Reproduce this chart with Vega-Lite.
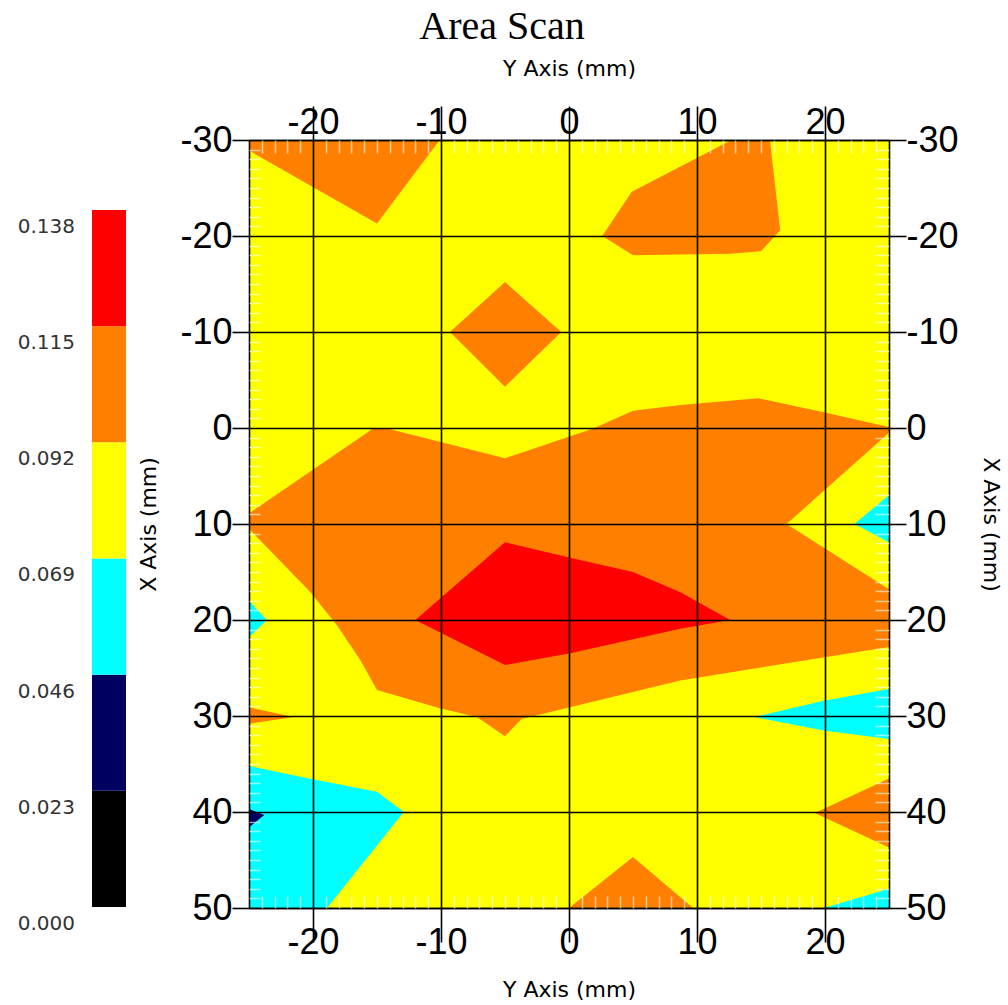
{
  "$schema": "https://vega.github.io/schema/vega-lite/v6.json",
  "autosize": {"type": "none"},
  "padding": {"left": 249, "top": 140, "right": 119, "bottom": 97},
  "width": 640,
  "height": 768,
  "background": "#ffffff",
  "title": {
    "text": "Area Scan",
    "font": "Liberation Serif",
    "fontSize": 40,
    "fontWeight": "normal",
    "color": "#000000",
    "anchor": "middle",
    "frame": "group",
    "dx": -67,
    "offset": 11
  },
  "config": {
    "view": {"stroke": null},
    "axis": {"zindex": 1}
  },
  "data": {
    "values": [
      {"p": "Y0", "l": 0.08, "i": 0, "h": -25, "v": -30},
      {"p": "Y0", "l": 0.08, "i": 1, "h": 25, "v": -30},
      {"p": "Y0", "l": 0.08, "i": 2, "h": 25, "v": 50},
      {"p": "Y0", "l": 0.08, "i": 3, "h": -25, "v": 50},

      {"p": "O1", "l": 0.1, "i": 0, "h": -25, "v": -30},
      {"p": "O1", "l": 0.1, "i": 1, "h": -25, "v": -28.9},
      {"p": "O1", "l": 0.1, "i": 2, "h": -15, "v": -21.3},
      {"p": "O1", "l": 0.1, "i": 3, "h": -10.1, "v": -30},

      {"p": "O2", "l": 0.1, "i": 0, "h": 2.6, "v": -20},
      {"p": "O2", "l": 0.1, "i": 1, "h": 4.9, "v": -24.6},
      {"p": "O2", "l": 0.1, "i": 2, "h": 12.7, "v": -30},
      {"p": "O2", "l": 0.1, "i": 3, "h": 15.7, "v": -30},
      {"p": "O2", "l": 0.1, "i": 4, "h": 16.5, "v": -20.6},
      {"p": "O2", "l": 0.1, "i": 5, "h": 15, "v": -18.4},
      {"p": "O2", "l": 0.1, "i": 6, "h": 12.6, "v": -18.15},
      {"p": "O2", "l": 0.1, "i": 7, "h": 5, "v": -18},

      {"p": "O3", "l": 0.1, "i": 0, "h": -5, "v": -15.2},
      {"p": "O3", "l": 0.1, "i": 1, "h": -0.6, "v": -10},
      {"p": "O3", "l": 0.1, "i": 2, "h": -5, "v": -4.3},
      {"p": "O3", "l": 0.1, "i": 3, "h": -9.3, "v": -10},

      {"p": "O4", "l": 0.1, "i": 0, "h": -25, "v": 8.9},
      {"p": "O4", "l": 0.1, "i": 1, "h": -15.3, "v": 0.05},
      {"p": "O4", "l": 0.1, "i": 2, "h": -14.2, "v": 0.05},
      {"p": "O4", "l": 0.1, "i": 3, "h": -5, "v": 3.15},
      {"p": "O4", "l": 0.1, "i": 4, "h": 1.9, "v": 0.05},
      {"p": "O4", "l": 0.1, "i": 5, "h": 5, "v": -1.8},
      {"p": "O4", "l": 0.1, "i": 6, "h": 8.7, "v": -2.4},
      {"p": "O4", "l": 0.1, "i": 7, "h": 14.8, "v": -3.1},
      {"p": "O4", "l": 0.1, "i": 8, "h": 19.9, "v": -1.65},
      {"p": "O4", "l": 0.1, "i": 9, "h": 25, "v": -0.1},
      {"p": "O4", "l": 0.1, "i": 10, "h": 25, "v": 0.5},
      {"p": "O4", "l": 0.1, "i": 11, "h": 17, "v": 10},
      {"p": "O4", "l": 0.1, "i": 12, "h": 25, "v": 16.8},
      {"p": "O4", "l": 0.1, "i": 13, "h": 25, "v": 22.8},
      {"p": "O4", "l": 0.1, "i": 14, "h": 8.7, "v": 26.3},
      {"p": "O4", "l": 0.1, "i": 15, "h": -3.7, "v": 30.3},
      {"p": "O4", "l": 0.1, "i": 16, "h": -5, "v": 32.1},
      {"p": "O4", "l": 0.1, "i": 17, "h": -7.2, "v": 30.1},
      {"p": "O4", "l": 0.1, "i": 18, "h": -10.1, "v": 29.2},
      {"p": "O4", "l": 0.1, "i": 19, "h": -15, "v": 27.3},
      {"p": "O4", "l": 0.1, "i": 20, "h": -16.3, "v": 24.2},
      {"p": "O4", "l": 0.1, "i": 21, "h": -18.1, "v": 20.6},
      {"p": "O4", "l": 0.1, "i": 22, "h": -20.2, "v": 17.1},
      {"p": "O4", "l": 0.1, "i": 23, "h": -25, "v": 10.5},

      {"p": "O5", "l": 0.1, "i": 0, "h": 19.2, "v": 40.1},
      {"p": "O5", "l": 0.1, "i": 1, "h": 25, "v": 36.5},
      {"p": "O5", "l": 0.1, "i": 2, "h": 25, "v": 43.7},

      {"p": "O6", "l": 0.1, "i": 0, "h": 0, "v": 50},
      {"p": "O6", "l": 0.1, "i": 1, "h": 5, "v": 44.7},
      {"p": "O6", "l": 0.1, "i": 2, "h": 9.7, "v": 50},

      {"p": "O7", "l": 0.1, "i": 0, "h": -25, "v": 29.1},
      {"p": "O7", "l": 0.1, "i": 1, "h": -21.5, "v": 30.1},
      {"p": "O7", "l": 0.1, "i": 2, "h": -25, "v": 30.8},

      {"p": "R1", "l": 0.125, "i": 0, "h": -12, "v": 20},
      {"p": "R1", "l": 0.125, "i": 1, "h": -5, "v": 11.9},
      {"p": "R1", "l": 0.125, "i": 2, "h": 0, "v": 13.5},
      {"p": "R1", "l": 0.125, "i": 3, "h": 5, "v": 15},
      {"p": "R1", "l": 0.125, "i": 4, "h": 8.7, "v": 17.1},
      {"p": "R1", "l": 0.125, "i": 5, "h": 12.6, "v": 20},
      {"p": "R1", "l": 0.125, "i": 6, "h": 8.7, "v": 20.9},
      {"p": "R1", "l": 0.125, "i": 7, "h": 0, "v": 23.5},
      {"p": "R1", "l": 0.125, "i": 8, "h": -5, "v": 24.7},

      {"p": "C1", "l": 0.06, "i": 0, "h": -25, "v": 18},
      {"p": "C1", "l": 0.06, "i": 1, "h": -23.6, "v": 20},
      {"p": "C1", "l": 0.06, "i": 2, "h": -25, "v": 21.8},

      {"p": "C2", "l": 0.06, "i": 0, "h": -25, "v": 35.2},
      {"p": "C2", "l": 0.06, "i": 1, "h": -20.3, "v": 36.5},
      {"p": "C2", "l": 0.06, "i": 2, "h": -15, "v": 37.9},
      {"p": "C2", "l": 0.06, "i": 3, "h": -12.9, "v": 40},
      {"p": "C2", "l": 0.06, "i": 4, "h": -18.9, "v": 50},
      {"p": "C2", "l": 0.06, "i": 5, "h": -25, "v": 50},

      {"p": "C3", "l": 0.06, "i": 0, "h": 25, "v": 7},
      {"p": "C3", "l": 0.06, "i": 1, "h": 22.3, "v": 10},
      {"p": "C3", "l": 0.06, "i": 2, "h": 25, "v": 11.9},

      {"p": "C4", "l": 0.06, "i": 0, "h": 14.5, "v": 30.1},
      {"p": "C4", "l": 0.06, "i": 1, "h": 19.9, "v": 28.4},
      {"p": "C4", "l": 0.06, "i": 2, "h": 25, "v": 27.2},
      {"p": "C4", "l": 0.06, "i": 3, "h": 25, "v": 32.4},
      {"p": "C4", "l": 0.06, "i": 4, "h": 19.9, "v": 31.5},

      {"p": "C5", "l": 0.06, "i": 0, "h": 19.9, "v": 50},
      {"p": "C5", "l": 0.06, "i": 1, "h": 25, "v": 48},
      {"p": "C5", "l": 0.06, "i": 2, "h": 25, "v": 50},

      {"p": "N1", "l": 0.04, "i": 0, "h": -25, "v": 39.7},
      {"p": "N1", "l": 0.04, "i": 1, "h": -23.8, "v": 40.3},
      {"p": "N1", "l": 0.04, "i": 2, "h": -25, "v": 41.6}
    ]
  },
  "resolve": {"axis": {"x": "independent", "y": "independent"}},
  "layer": [
    {
      "mark": {"type": "line", "interpolate": "linear-closed", "strokeWidth": 0, "clip": true},
      "encoding": {
        "x": {
          "field": "h", "type": "quantitative",
          "scale": {"domain": [-25, 25], "nice": false, "zero": false},
          "axis": {
            "orient": "bottom", "title": "Y Axis (mm)", "values": [-20, -10, 0, 10, 20],
            "labelExpr": "datum.value < 0 ? '-' + abs(datum.value) : '' + datum.value",
            "grid": true, "gridColor": "#000000", "gridWidth": 1.6, "gridOpacity": 1,
            "domainColor": "#000000", "domainWidth": 1.6,
            "tickColor": "#000000", "tickWidth": 1.6, "tickSize": 34,
            "labelFont": "Liberation Sans", "labelFontSize": 36, "labelColor": "#000000",
            "labelPadding": -16.6, "labelFlush": false, "labelOverlap": false,
            "titleFont": "DejaVu Sans", "titleFontSize": 22, "titleFontWeight": "normal",
            "titleColor": "#000000", "titlePadding": 19, "zindex": 1
          }
        },
        "y": {
          "field": "v", "type": "quantitative",
          "scale": {"domain": [-30, 50], "reverse": true, "nice": false, "zero": false},
          "axis": {
            "orient": "left", "title": "X Axis (mm)", "values": [-30, -20, -10, 0, 10, 20, 30, 40, 50],
            "labelExpr": "datum.value < 0 ? '-' + abs(datum.value) : '' + datum.value",
            "grid": true, "gridColor": "#000000", "gridWidth": 1.6, "gridOpacity": 1,
            "domainColor": "#000000", "domainWidth": 1.6,
            "tickColor": "#000000", "tickWidth": 1.6, "tickSize": 17,
            "labelFont": "Liberation Sans", "labelFontSize": 36, "labelColor": "#000000",
            "labelPadding": 0, "labelFlush": false, "labelOverlap": false,
            "titleFont": "DejaVu Sans", "titleFontSize": 22, "titleFontWeight": "normal",
            "titleColor": "#000000", "titlePadding": 19, "zindex": 1
          }
        },
        "order": {"field": "i", "type": "quantitative"},
        "detail": {"field": "p", "type": "nominal"},
        "fill": {
          "field": "l", "type": "quantitative",
          "scale": {
            "type": "quantize", "domain": [0, 0.138],
            "range": ["#000000", "#000060", "#00ffff", "#ffff00", "#ff8000", "#ff0000"]
          },
          "legend": {
            "type": "gradient", "orient": "none", "legendX": -157, "legendY": 70,
            "title": null, "padding": 0, "direction": "vertical",
            "gradientLength": 697, "gradientThickness": 34, "gradientStrokeWidth": 0,
            "values": [-0.001, 0.0000001, 0.0230001, 0.0460001, 0.0690001, 0.0920001, 0.1150001, 0.138],
            "format": ".3f",
            "labelFont": "DejaVu Sans", "labelFontSize": 20, "labelColor": "#333333",
            "labelOffset": -51, "labelOverlap": false,
            "encode": {
              "labels": {
                "update": {
                  "align": {"value": "right"},
                  "baseline": {"value": "middle"},
                  "dy": {"value": 17}
                }
              }
            }
          }
        }
      }
    },
    {
      "mark": {"type": "point", "opacity": 0},
      "encoding": {
        "x": {
          "field": "h", "type": "quantitative",
          "scale": {"domain": [-25, 25], "nice": false, "zero": false},
          "axis": {
            "orient": "top", "title": "Y Axis (mm)", "values": [-20, -10, 0, 10, 20],
            "labelExpr": "datum.value < 0 ? '-' + abs(datum.value) : '' + datum.value",
            "grid": false,
            "domainColor": "#000000", "domainWidth": 1.6,
            "tickColor": "#000000", "tickWidth": 1.6, "tickSize": 34,
            "labelFont": "Liberation Sans", "labelFontSize": 36, "labelColor": "#000000",
            "labelPadding": -35.6, "labelFlush": false, "labelOverlap": false,
            "titleFont": "DejaVu Sans", "titleFontSize": 22, "titleFontWeight": "normal",
            "titleColor": "#000000", "titlePadding": 24, "zindex": 1
          }
        },
        "y": {
          "field": "v", "type": "quantitative",
          "scale": {"domain": [-30, 50], "reverse": true, "nice": false, "zero": false},
          "axis": {
            "orient": "right", "title": "X Axis (mm)", "values": [-30, -20, -10, 0, 10, 20, 30, 40, 50],
            "labelExpr": "datum.value < 0 ? '-' + abs(datum.value) : '' + datum.value",
            "grid": false,
            "domainColor": "#000000", "domainWidth": 1.6,
            "tickColor": "#000000", "tickWidth": 1.6, "tickSize": 17,
            "labelFont": "Liberation Sans", "labelFontSize": 36, "labelColor": "#000000",
            "labelPadding": 0, "labelFlush": false, "labelOverlap": false,
            "titleFont": "DejaVu Sans", "titleFontSize": 22, "titleFontWeight": "normal",
            "titleColor": "#000000", "titlePadding": 20, "zindex": 1
          }
        }
      }
    },
    {
      "mark": {"type": "point", "opacity": 0},
      "encoding": {
        "x": {
          "field": "h", "type": "quantitative",
          "scale": {"domain": [-25, 25], "nice": false, "zero": false},
          "axis": {
            "orient": "bottom", "title": null, "labels": false, "domain": false, "grid": false,
            "values": [-24, -23, -22, -21, -19, -18, -17, -16, -15, -14, -13, -12, -11, -9, -8, -7, -6, -5, -4, -3, -2, -1, 1, 2, 3, 4, 5, 6, 7, 8, 9, 11, 12, 13, 14, 15, 16, 17, 18, 19, 21, 22, 23, 24],
            "tickColor": "#ffffff", "tickOpacity": 0.6, "tickWidth": 1.5, "tickSize": -12, "zindex": 2
          }
        },
        "y": {
          "field": "v", "type": "quantitative",
          "scale": {"domain": [-30, 50], "reverse": true, "nice": false, "zero": false},
          "axis": {
            "orient": "left", "title": null, "labels": false, "domain": false, "grid": false,
            "values": [-29, -28, -27, -26, -25, -24, -23, -22, -21, -19, -18, -17, -16, -15, -14, -13, -12, -11, -9, -8, -7, -6, -5, -4, -3, -2, -1, 1, 2, 3, 4, 5, 6, 7, 8, 9, 11, 12, 13, 14, 15, 16, 17, 18, 19, 21, 22, 23, 24, 25, 26, 27, 28, 29, 31, 32, 33, 34, 35, 36, 37, 38, 39, 41, 42, 43, 44, 45, 46, 47, 48, 49],
            "tickColor": "#ffffff", "tickOpacity": 0.6, "tickWidth": 1.5, "tickSize": -11, "zindex": 2
          }
        }
      }
    },
    {
      "mark": {"type": "point", "opacity": 0},
      "encoding": {
        "x": {
          "field": "h", "type": "quantitative",
          "scale": {"domain": [-25, 25], "nice": false, "zero": false},
          "axis": {
            "orient": "top", "title": null, "labels": false, "domain": false, "grid": false,
            "values": [-24, -23, -22, -21, -19, -18, -17, -16, -15, -14, -13, -12, -11, -9, -8, -7, -6, -5, -4, -3, -2, -1, 1, 2, 3, 4, 5, 6, 7, 8, 9, 11, 12, 13, 14, 15, 16, 17, 18, 19, 21, 22, 23, 24],
            "tickColor": "#ffffff", "tickOpacity": 0.6, "tickWidth": 1.5, "tickSize": -13, "zindex": 2
          }
        },
        "y": {
          "field": "v", "type": "quantitative",
          "scale": {"domain": [-30, 50], "reverse": true, "nice": false, "zero": false},
          "axis": {
            "orient": "right", "title": null, "labels": false, "domain": false, "grid": false,
            "values": [-29, -28, -27, -26, -25, -24, -23, -22, -21, -19, -18, -17, -16, -15, -14, -13, -12, -11, -9, -8, -7, -6, -5, -4, -3, -2, -1, 1, 2, 3, 4, 5, 6, 7, 8, 9, 11, 12, 13, 14, 15, 16, 17, 18, 19, 21, 22, 23, 24, 25, 26, 27, 28, 29, 31, 32, 33, 34, 35, 36, 37, 38, 39, 41, 42, 43, 44, 45, 46, 47, 48, 49],
            "tickColor": "#ffffff", "tickOpacity": 0.6, "tickWidth": 1.5, "tickSize": -14, "zindex": 2
          }
        }
      }
    }
  ]
}
